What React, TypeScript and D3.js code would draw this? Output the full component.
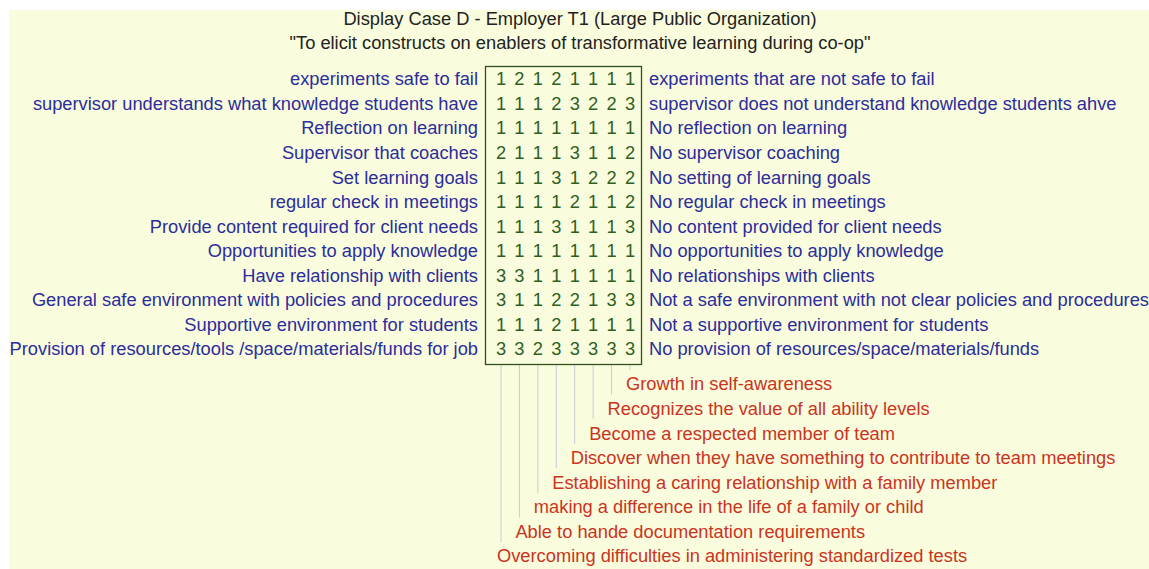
import React from 'react';
import * as d3 from 'd3';

const title = 'Display Case D - Employer T1 (Large Public Organization)';
const subtitle = '"To elicit constructs on enablers of transformative learning during co-op"';

const leftPoles = [
  'experiments safe to fail',
  'supervisor understands what knowledge students have',
  'Reflection on learning',
  'Supervisor that coaches',
  'Set learning goals',
  'regular check in meetings',
  'Provide content required for client needs',
  'Opportunities to apply knowledge',
  'Have relationship with clients',
  'General safe environment with policies and procedures',
  'Supportive environment for students',
  'Provision of resources/tools /space/materials/funds for job',
];

const rightPoles = [
  'experiments that are not safe to fail',
  'supervisor does not understand knowledge students ahve',
  'No reflection on learning',
  'No supervisor coaching',
  'No setting of learning goals',
  'No regular check in meetings',
  'No content provided for client needs',
  'No opportunities to apply knowledge',
  'No relationships with clients',
  'Not a safe environment with not clear policies and procedures',
  'Not a supportive environment for students',
  'No provision of resources/space/materials/funds',
];

// elements (columns), left to right
const elements = [
  'Overcoming difficulties in administering standardized tests',
  'Able to hande documentation requirements',
  'making a difference in the life of a family or child',
  'Establishing a caring relationship with a family member',
  'Discover when they have something to contribute to team meetings',
  'Become a respected member of team',
  'Recognizes the value of all ability levels',
  'Growth in self-awareness',
];

const ratings = [
  [1, 2, 1, 2, 1, 1, 1, 1],
  [1, 1, 1, 2, 3, 2, 2, 3],
  [1, 1, 1, 1, 1, 1, 1, 1],
  [2, 1, 1, 1, 3, 1, 1, 2],
  [1, 1, 1, 3, 1, 2, 2, 2],
  [1, 1, 1, 1, 2, 1, 1, 2],
  [1, 1, 1, 3, 1, 1, 1, 3],
  [1, 1, 1, 1, 1, 1, 1, 1],
  [3, 3, 1, 1, 1, 1, 1, 1],
  [3, 1, 1, 2, 2, 1, 3, 3],
  [1, 1, 1, 2, 1, 1, 1, 1],
  [3, 3, 2, 3, 3, 3, 3, 3],
];

const W = 1149;
const H = 569;
const font = 'Arial, "Liberation Sans", sans-serif';

export default function App() {
  const x = d3.scalePoint<number>().domain(d3.range(elements.length)).range([501, 630]);
  const y = d3.scalePoint<number>().domain(d3.range(leftPoles.length)).range([79, 349]);
  // element labels, bottom-up from last column
  const ly = d3.scalePoint<number>().domain(d3.range(elements.length)).range([556, 384]);

  const boxLeft = 485, boxRight = 641, boxTop = 66, boxBottom = 364;

  return (
    <svg width={W} height={H} style={{ position: 'absolute', left: 0, top: 0 }} fontFamily={font} fontSize={18.3}>
      <rect x={9} y={10} width={W - 9} height={H - 10} fill="#f9fddd" />
      <text x={580} y={19} dy="0.35em" textAnchor="middle" fill="#222">{title}</text>
      <text x={580} y={43} dy="0.35em" textAnchor="middle" fill="#222">{subtitle}</text>

      {elements.map((e, i) => (
        <g key={'el' + i}>
          <line x1={x(i)} x2={x(i)} y1={boxBottom} y2={(ly(i) as number) - 14} stroke="#c8ccd6" strokeWidth={1} />
          <text x={(x(i) as number) - 4} y={ly(i)} dy="0.35em" fill="#cc3322">{e}</text>
        </g>
      ))}

      <rect x={boxLeft + 0.5} y={boxTop + 0.5} width={boxRight - boxLeft} height={boxBottom - boxTop} fill="none" stroke="#2f4f1f" strokeWidth={1.3} />

      {leftPoles.map((p, r) => (
        <text key={'l' + r} x={478} y={y(r)} dy="0.35em" textAnchor="end" fill="#2c2c9c">{p}</text>
      ))}
      {rightPoles.map((p, r) => (
        <text key={'r' + r} x={649} y={y(r)} dy="0.35em" fill="#2c2c9c">{p}</text>
      ))}
      {ratings.map((row, r) =>
        row.map((v, c) => (
          <text key={r + '-' + c} x={x(c)} y={y(r)} dy="0.35em" textAnchor="middle" fill="#2f5f1f">{v}</text>
        ))
      )}
    </svg>
  );
}
